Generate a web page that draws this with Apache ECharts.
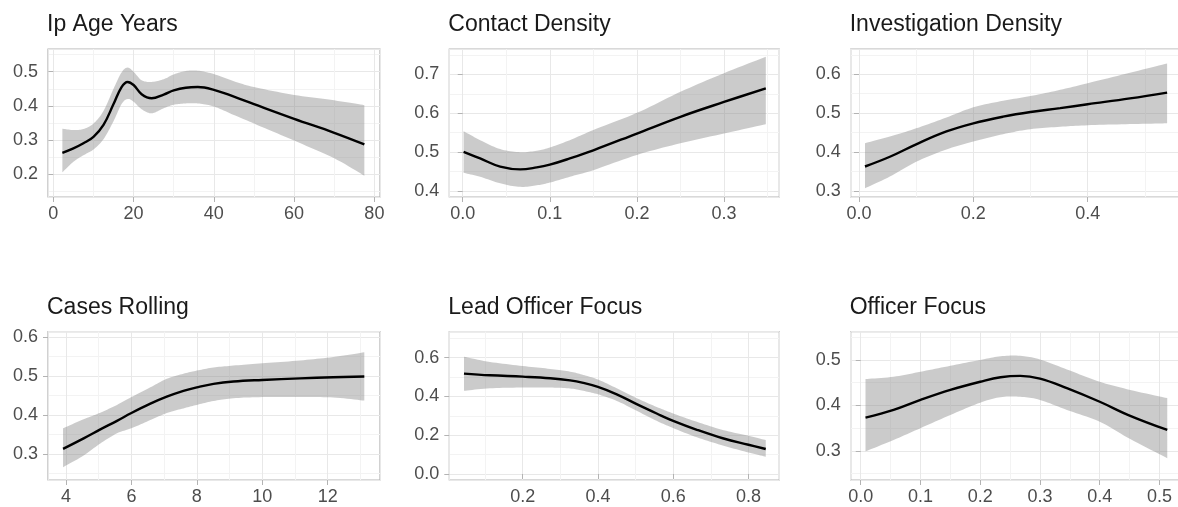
<!DOCTYPE html>
<html>
<head>
<meta charset="utf-8">
<script src="https://cdn.jsdelivr.net/npm/echarts@6/dist/echarts.min.js"></script>
<style>
  html, body { margin: 0; padding: 0; background: #ffffff; }
  #chart { width: 1178px; height: 507px; }
</style>
</head>
<body>
<div id="chart"></div>
<script>
// Smoothed effect estimates (fit with confidence band) for each predictor

// Ip Age Years
const ageX   = [2.25, 5, 7.5, 10, 12.5, 15, 17, 18.5, 20, 22, 24.5, 27.5, 30, 33, 36, 40, 45, 50, 60, 70, 77.5];
const ageFit = [0.262, 0.275, 0.290, 0.309, 0.344, 0.405, 0.455, 0.470, 0.461, 0.434, 0.422, 0.433, 0.445, 0.453, 0.455, 0.447, 0.427, 0.405, 0.362, 0.321, 0.287];
const ageLo  = [0.205, 0.236, 0.255, 0.272, 0.302, 0.355, 0.405, 0.420, 0.412, 0.390, 0.378, 0.393, 0.403, 0.407, 0.407, 0.398, 0.373, 0.348, 0.298, 0.246, 0.195];
const ageHi  = [0.333, 0.329, 0.332, 0.348, 0.385, 0.450, 0.498, 0.512, 0.500, 0.475, 0.470, 0.478, 0.492, 0.502, 0.503, 0.493, 0.472, 0.455, 0.432, 0.416, 0.402];

// Contact Density
const contactX   = [0.001, 0.02, 0.043, 0.066, 0.085, 0.1, 0.123, 0.15, 0.2, 0.25, 0.3, 0.348];
const contactFit = [0.501, 0.484, 0.463, 0.456, 0.461, 0.468, 0.484, 0.505, 0.548, 0.591, 0.629, 0.664];
const contactLo  = [0.447, 0.437, 0.420, 0.411, 0.415, 0.422, 0.437, 0.454, 0.493, 0.523, 0.548, 0.572];
const contactHi  = [0.554, 0.531, 0.508, 0.500, 0.504, 0.512, 0.531, 0.557, 0.601, 0.655, 0.703, 0.745];

// Investigation Density
const investX   = [0.0105, 0.054, 0.1, 0.153, 0.2, 0.252, 0.3, 0.352, 0.4, 0.474, 0.539];
const investFit = [0.363, 0.388, 0.420, 0.453, 0.474, 0.491, 0.503, 0.513, 0.523, 0.538, 0.553];
const investLo  = [0.307, 0.337, 0.375, 0.407, 0.427, 0.446, 0.459, 0.465, 0.469, 0.472, 0.474];
const investHi  = [0.423, 0.440, 0.461, 0.489, 0.515, 0.532, 0.544, 0.560, 0.577, 0.604, 0.628];

// Cases Rolling
const casesX   = [3.91, 4.54, 5.05, 5.56, 6, 6.58, 7.08, 7.59, 8, 8.51, 9.12, 10, 11.15, 12.17, 13.12];
const casesFit = [0.313, 0.340, 0.363, 0.385, 0.405, 0.429, 0.447, 0.462, 0.471, 0.480, 0.486, 0.490, 0.494, 0.497, 0.499];
const casesLo  = [0.266, 0.296, 0.327, 0.353, 0.366, 0.387, 0.405, 0.417, 0.426, 0.436, 0.443, 0.446, 0.446, 0.445, 0.437];
const casesHi  = [0.366, 0.389, 0.406, 0.426, 0.446, 0.471, 0.493, 0.506, 0.514, 0.522, 0.527, 0.533, 0.540, 0.549, 0.561];

// Lead Officer Focus
const leadX   = [0.044, 0.113, 0.2, 0.273, 0.326, 0.361, 0.4, 0.45, 0.503, 0.556, 0.6, 0.663, 0.734, 0.8, 0.846];
const leadFit = [0.518, 0.509, 0.502, 0.494, 0.483, 0.470, 0.449, 0.411, 0.360, 0.312, 0.274, 0.228, 0.183, 0.151, 0.129];
const leadLo  = [0.429, 0.442, 0.446, 0.446, 0.441, 0.429, 0.411, 0.377, 0.326, 0.274, 0.237, 0.189, 0.146, 0.111, 0.089];
const leadHi  = [0.605, 0.578, 0.557, 0.542, 0.528, 0.511, 0.487, 0.442, 0.391, 0.346, 0.312, 0.269, 0.226, 0.197, 0.175];

// Officer Focus
const officerX   = [0.008, 0.055, 0.1, 0.15, 0.2, 0.234, 0.267, 0.3, 0.345, 0.4, 0.451, 0.513];
const officerFit = [0.373, 0.390, 0.412, 0.434, 0.452, 0.462, 0.465, 0.459, 0.438, 0.408, 0.377, 0.346];
const officerLo  = [0.299, 0.324, 0.350, 0.379, 0.406, 0.418, 0.419, 0.412, 0.390, 0.364, 0.326, 0.284];
const officerHi  = [0.458, 0.463, 0.474, 0.487, 0.500, 0.508, 0.509, 0.501, 0.479, 0.452, 0.434, 0.416];

const panelTitles = ['Ip Age Years', 'Contact Density', 'Investigation Density',
                     'Cases Rolling', 'Lead Officer Focus', 'Officer Focus'];

// Facet layout (pixels) and axis ranges
const colLeft  = [48, 449.3, 850.7];
const colWidth = [332, 330, 331.5];
const rowTop   = [49, 331.7];
const rowHeight = [148, 148.3];
const titleTop = [13, 296];

const panels = [
  { x: ageX, fit: ageFit, lo: ageLo, hi: ageHi, xr: [-1.33, 81.4], yr: [0.1326, 0.5666], xs: 5, ys: 5, xd: 0 },
  { x: contactX, fit: contactFit, lo: contactLo, hi: contactHi, xr: [-0.0154, 0.3635], yr: [0.385, 0.765], xs: 5, ys: 5, xd: 1 },
  { x: investX, fit: investFit, lo: investLo, hi: investHi, xr: [-0.0145, 0.5654], yr: [0.2846, 0.665], xs: 3, ys: 5, xd: 1 },
  { x: casesX, fit: casesFit, lo: casesLo, hi: casesHi, xr: [3.45, 13.6], yr: [0.233, 0.614], xs: 5, ys: 5, xd: 0 },
  { x: leadX, fit: leadFit, lo: leadLo, hi: leadHi, xr: [0.005, 0.882], yr: [-0.031, 0.734], xs: 5, ys: 4, xd: 1 },
  { x: officerX, fit: officerFit, lo: officerLo, hi: officerHi, xr: [-0.0168, 0.538], yr: [0.236, 0.562], xs: 5, ys: 3, xd: 1 }
];

const FONT = '"Liberation Sans", Arial, Helvetica, sans-serif';
const AXIS_TEXT = '#4D4D4D';
const BORDER = '#B3B3B3';
const GRID_MAJOR = '#E8E8E8';
const GRID_MINOR = '#F3F3F3';
const RIBBON = 'rgba(140,140,140,0.45)';

function valueAxis(gridIndex, range, splitNumber, decimals, isX) {
  return {
    type: 'value',
    gridIndex: gridIndex,
    min: range[0],
    max: range[1],
    splitNumber: splitNumber,
    axisLine: { show: false },
    axisTick: { show: true, length: 5, lineStyle: { color: BORDER, width: 1 } },
    axisLabel: {
      show: true,
      showMinLabel: false,
      showMaxLabel: false,
      color: AXIS_TEXT,
      fontSize: 18,
      fontFamily: FONT,
      margin: isX ? 8 : 10,
      formatter: function (v) { return v.toFixed(decimals); }
    },
    splitLine: { show: true, lineStyle: { color: GRID_MAJOR, width: 1 } },
    minorTick: { show: false, splitNumber: 2 },
    minorSplitLine: { show: true, lineStyle: { color: GRID_MINOR, width: 1 } }
  };
}

// Catmull-Rom style curve through pixel points, returned as a dense polyline
function smoothPath(pts, t) {
  const out = [];
  const n = pts.length;
  const steps = 10;
  for (let i = 0; i < n - 1; i++) {
    const p0 = pts[Math.max(i - 1, 0)], p1 = pts[i], p2 = pts[i + 1], p3 = pts[Math.min(i + 2, n - 1)];
    const c1 = [p1[0] + (p2[0] - p0[0]) * t, p1[1] + (p2[1] - p0[1]) * t];
    const c2 = [p2[0] - (p3[0] - p1[0]) * t, p2[1] - (p3[1] - p1[1]) * t];
    for (let s = 0; s < steps; s++) {
      const u = s / steps, v = 1 - u;
      out.push([
        v * v * v * p1[0] + 3 * v * v * u * c1[0] + 3 * v * u * u * c2[0] + u * u * u * p2[0],
        v * v * v * p1[1] + 3 * v * v * u * c1[1] + 3 * v * u * u * c2[1] + u * u * u * p2[1]
      ]);
    }
  }
  out.push(pts[n - 1]);
  return out;
}

const grids = [], xAxes = [], yAxes = [], series = [], titles = [];

panels.forEach(function (p, i) {
  const col = i % 3, row = Math.floor(i / 3);
  grids.push({
    left: colLeft[col], top: rowTop[row], width: colWidth[col], height: rowHeight[row],
    show: true, borderColor: BORDER, borderWidth: 1.2, backgroundColor: 'transparent',
    outerBoundsMode: 'none', containLabel: false
  });
  titles.push({
    text: panelTitles[i],
    left: colLeft[col] - 1,
    top: titleTop[row],
    padding: 0,
    textStyle: { fontSize: 23, fontWeight: 'normal', color: '#1A1A1A', fontFamily: FONT }
  });
  xAxes.push(valueAxis(i, p.xr, p.xs, p.xd, true));
  yAxes.push(valueAxis(i, p.yr, p.ys, 1, false));

  // confidence band: upper edge forward, lower edge back
  series.push({
    type: 'custom', xAxisIndex: i, yAxisIndex: i, silent: true, z: 3,
    data: [[p.x[0], p.fit[0]]],
    renderItem: function (params, api) {
      const upper = p.x.map(function (v, k) { return api.coord([v, p.hi[k]]); });
      const lower = p.x.map(function (v, k) { return api.coord([v, p.lo[k]]); });
      const pts = smoothPath(upper, 1 / 6).concat(smoothPath(lower, 1 / 6).reverse());
      return {
        type: 'polygon',
        shape: { points: pts },
        style: { fill: RIBBON, stroke: null }
      };
    }
  });
  // fitted curve
  series.push({
    type: 'line', xAxisIndex: i, yAxisIndex: i,
    data: p.x.map(function (v, k) { return [v, p.fit[k]]; }),
    symbol: 'none', smooth: 0.4, silent: true, z: 5,
    lineStyle: { color: '#000000', width: 2.4 }
  });
});

const chart = echarts.init(document.getElementById('chart'), null, { renderer: 'canvas' });
chart.setOption({
  animation: false,
  backgroundColor: '#ffffff',
  title: titles,
  grid: grids,
  xAxis: xAxes,
  yAxis: yAxes,
  series: series
});
</script>
</body>
</html>
